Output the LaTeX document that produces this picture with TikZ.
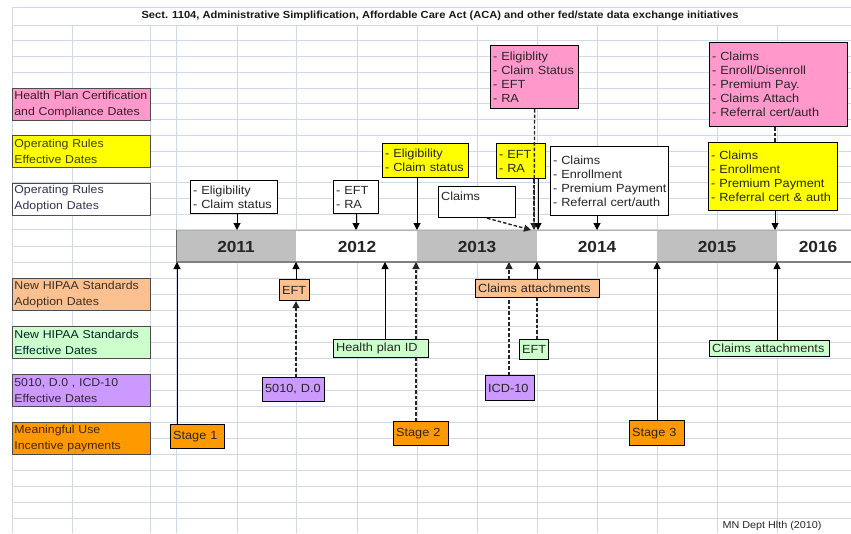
\documentclass[tikz,border=0pt]{standalone}
\usepackage{fontspec}
\setmainfont{Liberation Sans}[FakeStretch=1.08]
\usetikzlibrary{arrows.meta}
\definecolor{gridc}{HTML}{D0D7E5}
\definecolor{pinkc}{HTML}{FF99CC}
\definecolor{yelc}{HTML}{FFFF00}
\definecolor{peachc}{HTML}{FAC090}
\definecolor{greenc}{HTML}{CCFFCC}
\definecolor{purpc}{HTML}{CC99FF}
\definecolor{orangec}{HTML}{FF9900}
\definecolor{barc}{HTML}{C0C0C0}
\tikzset{
  gridline/.style={draw=gridc, line width=1pt},
  legend/.style={draw=black!70, line width=0.8pt, anchor=north west, minimum width=138pt,
    text width=134pt, inner xsep=2pt, inner ysep=0pt, align=left, font=\fontsize{11.4}{16}\selectfont},
  cbox/.style={draw=black, line width=1.2pt, anchor=north west, align=left, inner xsep=2.5pt,
    inner ysep=0pt, font=\fontsize{11.8}{14}\selectfont, text=black!85},
  tip/.style={-{Triangle[length=7pt,width=7pt]}},
  arr/.style={line width=1pt, tip},
  darr/.style={line width=1.4pt, draw=black!85, dash pattern=on 3.5pt off 2pt, tip},
  dline/.style={line width=1.4pt, draw=black!85, dash pattern=on 3.5pt off 2pt},
  yearlab/.style={font=\fontsize{16}{16}\selectfont\bfseries, text=black!85},
}
\begin{document}
\begin{tikzpicture}[x=1pt,y=-1pt]
\useasboundingbox (0,0) rectangle (851,533);
\fill[white] (0,0) rectangle (851,533);
% grid
\foreach \yy in {7,25,40.8,56.5,72.3,88,103.8,119.5,135.3,151,166.8,182.6,198.3,214,229.8,246,262,278,294,310,326,342,358,374,390,406,422,438,454,470,486,502,518}
  \draw[gridline] (12,\yy) -- (851,\yy);
\draw[gridline] (12,7) -- (12,533);
\foreach \xx in {72,150,176,237,296,357,417,477,537,597,657,717,777}
  \draw[gridline] (\xx,25) -- (\xx,533);
% header
\node[font=\fontsize{10.3}{11}\selectfont\bfseries, text=black!90] (title) at (440,16)
  {Sect. 1104, Administrative Simplification, Affordable Care Act (ACA) and other fed/state data exchange initiatives};
% timeline bar
\node[draw=black!45, line width=1pt, anchor=north west, minimum width=675pt, minimum height=32pt, inner sep=0pt, fill=white] (bar) at (176,230) {};
\fill[barc] (176.5,230.5) rectangle (296,261.5);
\fill[barc] (417,230.5) rectangle (537,261.5);
\fill[barc] (657,230.5) rectangle (777,261.5);
\draw[black!30, line width=0.8pt] (176,230) -- (851,230);
\draw[black!50, line width=1.5pt] (176,262) -- (851,262);
\draw[black!60, line width=1pt] (176,230) -- (176,262);
\node[yearlab] (y2011) at (236,247) {2011};
\node[yearlab] (y2012) at (357,247) {2012};
\node[yearlab] (y2013) at (477,247) {2013};
\node[yearlab] (y2014) at (597,247) {2014};
\node[yearlab] (y2015) at (717,247) {2015};
\node[yearlab] (y2016) at (818,247) {2016};
% legend
\node[legend, fill=pinkc, minimum height=32pt, text=pinkc!20!black] (l1) at (12,88) {Health Plan Certification\\and Compliance Dates};
\node[legend, fill=yelc, minimum height=32pt, text=yelc!25!black] (l2) at (12,135.3) {Operating Rules\\Effective Dates};
\node[legend, fill=white, minimum height=32pt, text=blue!15!black!80] (l3) at (12,182.6) {Operating Rules\\Adoption Dates};
\node[legend, fill=peachc, minimum height=32pt, text=peachc!25!black] (l4) at (12,278) {New HIPAA Standards\\Adoption Dates};
\node[legend, fill=greenc, minimum height=32pt, text=teal!30!black] (l5) at (12,326) {New HIPAA Standards\\Effective Dates};
\node[legend, fill=purpc, minimum height=32pt, text=purpc!25!black] (l6) at (12,374) {5010, D.0 , ICD-10\\Effective Dates};
\node[legend, fill=orangec, minimum height=32pt, text=orangec!25!black] (l7) at (12,422) {Meaningful Use\\Incentive payments};
% endpoint coordinates on bar
\coordinate (t1) at (237,230);
\coordinate (t2) at (356,230);
\coordinate (t3) at (417,230);
\coordinate (t4) at (531,230);
\coordinate (t5) at (534,230);
\coordinate (t6) at (538,230);
\coordinate (t7) at (597,230);
\coordinate (t8) at (775,230);
\coordinate (b1) at (177,262);
\coordinate (b2) at (296,262);
\coordinate (b3) at (385,262);
\coordinate (b4) at (416,262);
\coordinate (b5) at (509,262);
\coordinate (b6) at (537,262);
\coordinate (b7) at (657,262);
\coordinate (b8) at (777,262);
% top callout boxes
\node[cbox, fill=pinkc, minimum width=88pt, text width=83pt, minimum height=63pt] (hp1) at (490,45)
  {- Eligiblity\\- Claim Status\\- EFT\\- RA};
\node[cbox, fill=pinkc, minimum width=138pt, text width=133pt, minimum height=84pt] (hp2) at (709,42)
  {- Claims\\- Enroll/Disenroll\\- Premium Pay.\\- Claims Attach\\- Referral cert/auth};
\node[cbox, fill=yelc, minimum width=86pt, text width=81pt, minimum height=34pt] (yel) at (382,143)
  {- Eligibility\\- Claim status};
\node[cbox, fill=yelc, minimum width=49pt, text width=44pt, minimum height=35pt] (yer) at (496,143)
  {- EFT\\- RA};
\node[cbox, fill=yelc, minimum width=129pt, text width=124pt, minimum height=68pt] (ybig) at (708,142)
  {- Claims\\- Enrollment\\- Premium Payment\\- Referral cert \& auth};
\node[cbox, fill=white, minimum width=87pt, text width=82pt, minimum height=33pt] (wel) at (190,180)
  {- Eligibility\\- Claim status};
\node[cbox, fill=white, minimum width=45pt, text width=40pt, minimum height=33pt] (wer) at (333,180)
  {- EFT\\- RA};
\node[cbox, fill=white, minimum width=77pt, text width=72pt, text height=9pt, text depth=12pt, inner ysep=5pt] (wcl) at (438,186)
  {Claims};
\node[cbox, fill=white, minimum width=118pt, text width=113pt, minimum height=69pt] (wbig) at (550,146)
  {- Claims\\- Enrollment\\\mbox{- Premium Payment}\\\mbox{- Referral cert/auth}};
% top connectors
\draw[dline] (hp1.south) -- (t5);
\draw[dline] (hp2.south -| t8) -- (ybig.north -| t8);
\draw[arr] (wel.south -| t1) -- (t1);
\draw[arr] (wer.south -| t2) -- (t2);
\draw[arr] (yel.south -| t3) -- (t3);
\draw[darr] ([xshift=10pt]wcl.south) -- (t4);
\draw[darr] (yer.south -| t5) -- (t5);
\draw[arr] (yer.south -| t6) -- (t6);
\draw[arr] (wbig.south -| t7) -- (t7);
\draw[arr] (ybig.south -| t8) -- (t8);
% bottom boxes
\node[cbox, fill=peachc, minimum width=30pt, text width=25pt, minimum height=21pt] (pef) at (279,279) {EFT};
\node[cbox, fill=purpc, minimum width=62pt, text width=57pt, minimum height=24pt] (p5010) at (262,377) {5010, D.0};
\node[cbox, fill=greenc, minimum width=95pt, text width=90pt, minimum height=18pt] (ghp) at (333,339) {Health plan ID};
\node[cbox, fill=orangec, minimum width=54pt, text width=49pt, minimum height=24pt] (s1) at (170,424) {Stage 1};
\node[cbox, fill=orangec, minimum width=55pt, text width=50pt, minimum height=24pt] (s2) at (393,421) {Stage 2};
\node[cbox, fill=orangec, minimum width=55pt, text width=50pt, minimum height=25pt] (s3) at (629,420) {Stage 3};
\node[cbox, fill=peachc, minimum width=124pt, text width=119pt, minimum height=18pt] (pca) at (475,279) {Claims attachments};
\node[cbox, fill=purpc, minimum width=49pt, text width=44pt, minimum height=25pt] (pic) at (485,375) {ICD-10};
\node[cbox, fill=greenc, minimum width=29pt, text width=24pt, minimum height=20pt] (gef) at (519,339) {EFT};
\node[cbox, fill=greenc, minimum width=120pt, text width=115pt, minimum height=16pt] (gca) at (709,340) {Claims attachments};
% bottom connectors
\draw[arr] (s1.north -| b1) -- (b1);
\draw[darr] (p5010.north -| b2) -- (pef.south -| b2);
\draw[arr] (pef.north -| b2) -- (b2);
\draw[arr] (ghp.north -| b3) -- (b3);
\draw[dline] (s2.north -| b4) -- (ghp.south -| b4);
\draw[darr] (ghp.north -| b4) -- (b4);
\draw[dline] (pic.north -| b5) -- (pca.south -| b5);
\draw[darr] (pca.north -| b5) -- (b5);
\draw[dline] (gef.north -| b6) -- (pca.south -| b6);
\draw[arr] (pca.north -| b6) -- (b6);
\draw[arr] (s3.north -| b7) -- (b7);
\draw[arr] (gca.north -| b8) -- (b8);
% source
\node[font=\fontsize{10}{12}\selectfont, text=black!85, anchor=west] (src) at (719,526) {MN Dept Hlth (2010)};
\end{tikzpicture}
\end{document}
